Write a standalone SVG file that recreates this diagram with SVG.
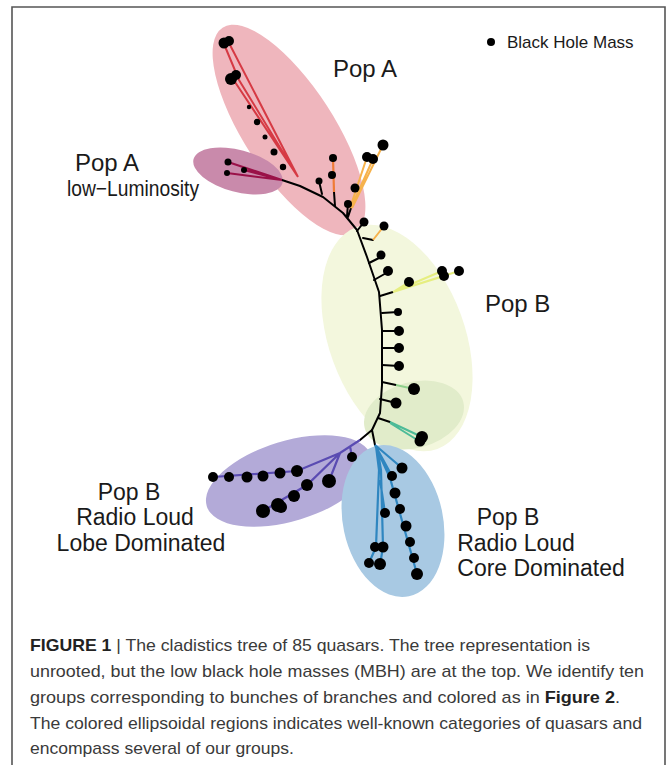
<svg xmlns="http://www.w3.org/2000/svg" width="667" height="765" viewBox="0 0 667 765">
<style>
.lbl{font-family:"Liberation Sans",Arial,sans-serif;font-size:23px;fill:#1a1a1a}
.cap{font-family:"Liberation Sans",Arial,sans-serif;font-size:17px;fill:#3a3a3a}
.b{stroke:#000;stroke-width:2;fill:none;stroke-linejoin:round;stroke-linecap:round}
.red{stroke:#d63a44;stroke-width:2;fill:none}
.mag{stroke:#9a1148;stroke-width:2;fill:none}
.org{stroke:#ef7b36;stroke-width:2.2;fill:none}
.yel{stroke:#f6b24c;stroke-width:2;fill:none}
.ylg{stroke:#e6ee80;stroke-width:2;fill:none}
.grn{stroke:#8fd08c;stroke-width:2;fill:none}
.teal{stroke:#4dbb98;stroke-width:2;fill:none}
.pur{stroke:#5a4bb2;stroke-width:2.2;fill:none}
.blu{stroke:#2f86c0;stroke-width:2.2;fill:none}
circle{fill:#000}
</style>
<rect width="667" height="765" fill="#fff"/>
<path d="M12,770 V7 H665 V770" fill="none" stroke="#555" stroke-width="1.6"/>

<g id="regions">
<ellipse id="popA" cx="289" cy="130" rx="122" ry="45" transform="rotate(57 289 130)" fill="#efb6bd"/>
<ellipse id="popB" cx="397" cy="338" rx="68" ry="118" transform="rotate(-20 397 338)" fill="#f3f7dd"/>
<ellipse id="popBsub" cx="414" cy="415" rx="51" ry="33" transform="rotate(-15 414 415)" fill="#e1ecca"/>
<ellipse id="popAlow" cx="238" cy="171" rx="46" ry="21" transform="rotate(15 238 171)" fill="#c98aab"/>
<ellipse id="lobe" cx="289" cy="481" rx="86" ry="40" transform="rotate(-17 289 481)" fill="#b3aad8"/>
<ellipse id="core" cx="393" cy="521" rx="50" ry="77" transform="rotate(-12 393 521)" fill="#a8c9e3"/>
</g>

<g id="connectors">
<path class="b" d="M282,180 L300,186 L323,197 L343,213 L357,230 L367,257 L379,292 L382,330 L382,385 L380,413 L372,430"/>
<path class="red" d="M224,44 L239,80 L298,177 M229,43 L298,177 M233,79 L298,177"/>
<path class="mag" d="M228,162 L282,180 M227,173 L282,180 M244,170 L282,180"/>
<path class="b" d="M319,181 L322,194 M334,192 L335,206 M351,208 L348,217 M348,204 L347,216 M364,222 L357,231 M363,238 L373,240"/>
<path class="org" d="M333,158 L334,192"/>
<path class="yel" d="M383,145 L352,208 M367,157 L350,208 M373,159 L351,208 M384,226 L373,240"/>
<path class="b" d="M369,263 L381,257 M374,280 L388,272 M380,296 L393,292 M382,313 L398,312 M382,331 L399,331 M382,348 L399,348 M382,365 L399,366 M382,382 L396,385 M380,399 L396,403 M378,418 L390,422"/>
<path class="ylg" d="M393,292 L409,282 M393,292 L442,271 M393,292 L444,276 M393,292 L459,271"/>
<path class="grn" d="M396,385 L414,389"/>
<path class="teal" d="M390,422 L422,437 M390,423 L419,441"/>
<path class="b" d="M372,430 L360,440 M372,430 L375,445"/>
<path class="pur" d="M360,440 L340,453 L297,471 L213,477 M340,453 L307,485 L263,511 M340,453 L329,481 M350,446 L352,457"/>
<path class="blu" d="M375,445 L402,468 M375,445 L392,476 M375,445 L390,478 L417,574 M376,446 L379,470 L376,547 L369,563 M377,446 L381,470 L383,547 L380,565 M380,480 L385,513"/>
</g>

<g id="leaves">
<circle cx="224" cy="43" r="5.5"/><circle cx="229" cy="41" r="5"/>
<circle cx="231" cy="79" r="6"/><circle cx="236" cy="75" r="5"/>
<circle cx="249" cy="107" r="2.2"/><circle cx="257" cy="122" r="3.2"/>
<circle cx="265" cy="137" r="2.5"/><circle cx="274" cy="152" r="3.5"/>
<circle cx="283" cy="167" r="3.2"/>
<circle cx="228" cy="162" r="3.5"/><circle cx="227" cy="173" r="3"/><circle cx="244" cy="170" r="3"/>
<circle cx="319" cy="181" r="3.5"/><circle cx="333" cy="158" r="4"/><circle cx="332" cy="175" r="4"/>
<circle cx="355" cy="188" r="4.5"/><circle cx="348" cy="204" r="4"/>
<circle cx="383" cy="145" r="5.5"/><circle cx="367" cy="157" r="5"/><circle cx="373" cy="159" r="5"/>
<circle cx="364" cy="222" r="4.5"/><circle cx="384" cy="226" r="4.5"/>
<circle cx="381" cy="255" r="4.5"/><circle cx="388" cy="271" r="5"/>
<circle cx="409" cy="282" r="5"/><circle cx="442" cy="271" r="5"/><circle cx="444" cy="276" r="5"/><circle cx="459" cy="271" r="5"/>
<circle cx="398" cy="312" r="4"/><circle cx="399" cy="331" r="5"/><circle cx="399" cy="348" r="5"/><circle cx="399" cy="366" r="5"/>
<circle cx="414" cy="389" r="6"/><circle cx="396" cy="403" r="5.5"/>
<circle cx="422" cy="437" r="6"/><circle cx="420" cy="441" r="5.5"/>
<circle cx="352" cy="457" r="5"/>
<circle cx="213" cy="477" r="5"/><circle cx="229" cy="477" r="5"/><circle cx="247" cy="477" r="5.5"/>
<circle cx="263" cy="476" r="5.5"/><circle cx="280" cy="473" r="5.5"/><circle cx="297" cy="471" r="6"/>
<circle cx="263" cy="511" r="7"/><circle cx="278" cy="505" r="7"/><circle cx="281" cy="507" r="6"/>
<circle cx="294" cy="496" r="6"/><circle cx="307" cy="485" r="6"/><circle cx="329" cy="481" r="7"/>
<circle cx="402" cy="468" r="5.5"/><circle cx="392" cy="476" r="5"/>
<circle cx="395" cy="493" r="5.5"/><circle cx="400" cy="509" r="5"/><circle cx="406" cy="526" r="5.5"/>
<circle cx="410" cy="542" r="5"/><circle cx="414" cy="558" r="5"/><circle cx="417" cy="574" r="6"/>
<circle cx="385" cy="513" r="5"/><circle cx="375" cy="547" r="5"/><circle cx="383" cy="547" r="5.5"/>
<circle cx="369" cy="563" r="5"/><circle cx="380" cy="564" r="6"/>
</g>

<g id="legend">
<circle cx="491" cy="42" r="4"/>
<text x="507" y="48" class="lbl" style="font-size:17px">Black Hole Mass</text>
</g>

<g id="labels">
<text x="333" y="77" class="lbl" font-size="24" style="font-size:24px">Pop A</text>
<text x="107" y="171" class="lbl" text-anchor="middle" style="font-size:24px">Pop A</text>
<text x="133" y="196" class="lbl" text-anchor="middle" style="font-size:22px" textLength="132" lengthAdjust="spacingAndGlyphs">low−Luminosity</text>
<text x="485" y="312" class="lbl" style="font-size:24px">Pop B</text>
<text x="129" y="500" class="lbl" text-anchor="middle" style="font-size:23px">Pop B</text>
<text x="135" y="525" class="lbl" text-anchor="middle" style="font-size:23px">Radio Loud</text>
<text x="141" y="551" class="lbl" text-anchor="middle" style="font-size:23px">Lobe Dominated</text>
<text x="508" y="525" class="lbl" text-anchor="middle" style="font-size:23px">Pop B</text>
<text x="516" y="551" class="lbl" text-anchor="middle" style="font-size:23px">Radio Loud</text>
<text x="541" y="576" class="lbl" text-anchor="middle" style="font-size:23px">Core Dominated</text>
</g>

<g id="caption">
<text x="30" y="651" class="cap" textLength="560" lengthAdjust="spacingAndGlyphs"><tspan font-weight="bold" fill="#222">FIGURE 1</tspan> | The cladistics tree of 85 quasars. The tree representation is</text>
<text x="30" y="677" class="cap" textLength="614" lengthAdjust="spacingAndGlyphs">unrooted, but the low black hole masses (MBH) are at the top. We identify ten</text>
<text x="30" y="703" class="cap" textLength="590" lengthAdjust="spacingAndGlyphs">groups corresponding to bunches of branches and colored as in <tspan font-weight="bold" fill="#222">Figure 2</tspan>.</text>
<text x="30" y="729" class="cap" textLength="612" lengthAdjust="spacingAndGlyphs">The colored ellipsoidal regions indicates well-known categories of quasars and</text>
<text x="30" y="754" class="cap" textLength="264" lengthAdjust="spacingAndGlyphs">encompass several of our groups.</text>
</g>
</svg>
